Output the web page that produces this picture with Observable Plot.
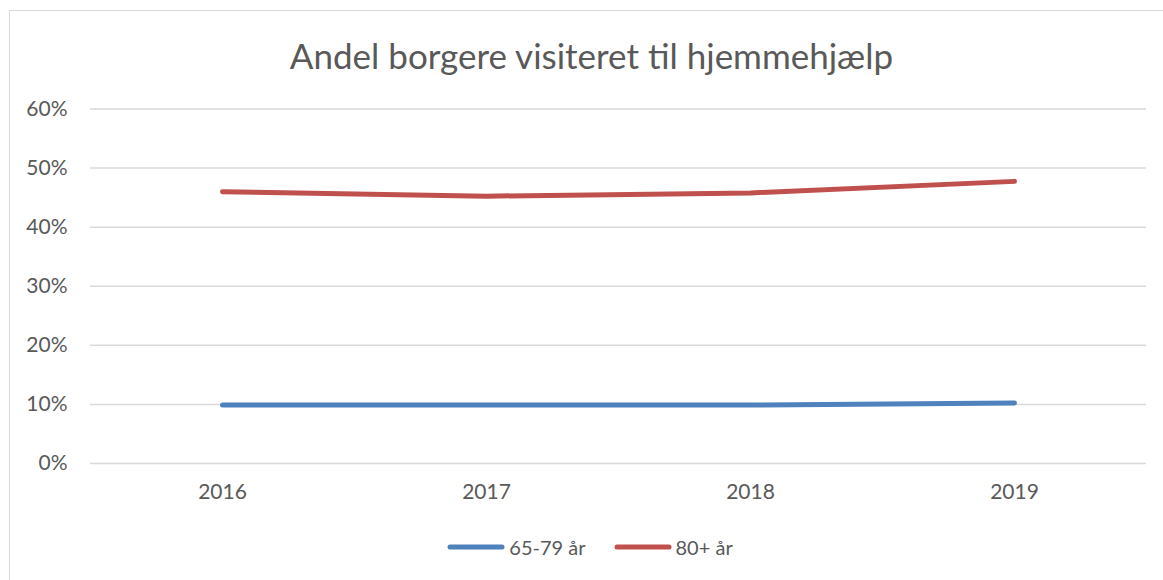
<!DOCTYPE html>
<html>
<head>
<meta charset="utf-8">
<script src="https://cdn.jsdelivr.net/npm/d3@7"></script>
<script src="https://cdn.jsdelivr.net/npm/@observablehq/plot@0.6"></script>
<style>
  body { margin: 0; background: #fff; font-family: Lato, "Open Sans", sans-serif; color: #595959; }
  #frame { position: absolute; left: 9px; top: 10px; width: 1160px; height: 580px; border: 1px solid #d9d9d9; box-sizing: border-box; }
  #title { position: absolute; left: 0; width: 1183px; top: 33px; text-align: center; font-size: 35px; color: #595959; line-height: 44px; }
  #chart { position: absolute; left: 0; top: 90px; }
  #legend { position: absolute; top: 535px; left: 0; width: 1208px; display: flex; justify-content: center; align-items: center; font-size: 20px; color: #595959; line-height: 24px; }
  .item { display: flex; align-items: center; margin-right: 28px; }
  .item svg { margin-right: 4px; }
</style>
</head>
<body>
<div id="frame"></div>
<div id="title">Andel borgere visiteret til hjemmehjælp</div>
<div id="chart"></div>
<div id="legend"></div>
<script>
const years = ["2016", "2017", "2018", "2019"];
const seriesNames = ["65-79 år", "80+ år"];
const values6579 = [9.9, 9.9, 9.9, 10.25];
const values80 = [46.0, 45.25, 45.8, 47.75];
const yTicks = [0, 10, 20, 30, 40, 50, 60];
const colors = ["#4F81BD", "#C0504D"];

const data = [];
years.forEach((y, i) => data.push({year: y, series: seriesNames[0], value: values6579[i]}));
years.forEach((y, i) => data.push({year: y, series: seriesNames[1], value: values80[i]}));

const chart = Plot.plot({
  width: 1163,
  height: 420,
  marginLeft: 90,
  marginRight: 17,
  marginTop: 18.5,
  marginBottom: 47,
  style: { fontFamily: "Lato, 'Open Sans', sans-serif", fontSize: "21px", color: "#595959", background: "transparent" },
  x: { type: "point", domain: years, padding: 0.5, label: null },
  y: { domain: [0, 60], label: null },
  color: { domain: seriesNames, range: colors },
  marks: [
    Plot.gridY(yTicks, { stroke: "#d9d9d9", strokeOpacity: 1, strokeWidth: 1.5 }),
    Plot.axisY(yTicks, { tickSize: 0, tickPadding: 23, tickFormat: d => d + "%", fill: "#595959", fontSize: 21 }),
    Plot.axisX({ tickSize: 0, tickPadding: 21, fill: "#595959", fontSize: 21 }),
    Plot.line(data, { x: "year", y: "value", z: "series", stroke: "series", strokeWidth: 5, strokeLinecap: "round", strokeLinejoin: "round" })
  ]
});
document.getElementById("chart").appendChild(chart);

const legend = document.getElementById("legend");
seriesNames.forEach((name, i) => {
  const item = document.createElement("div");
  item.className = "item";
  item.innerHTML = `<svg width="58" height="10"><line x1="3" y1="5" x2="55" y2="5" stroke="${colors[i]}" stroke-width="5" stroke-linecap="round"/></svg><span>${name}</span>`;
  legend.appendChild(item);
});
</script>
</body>
</html>
